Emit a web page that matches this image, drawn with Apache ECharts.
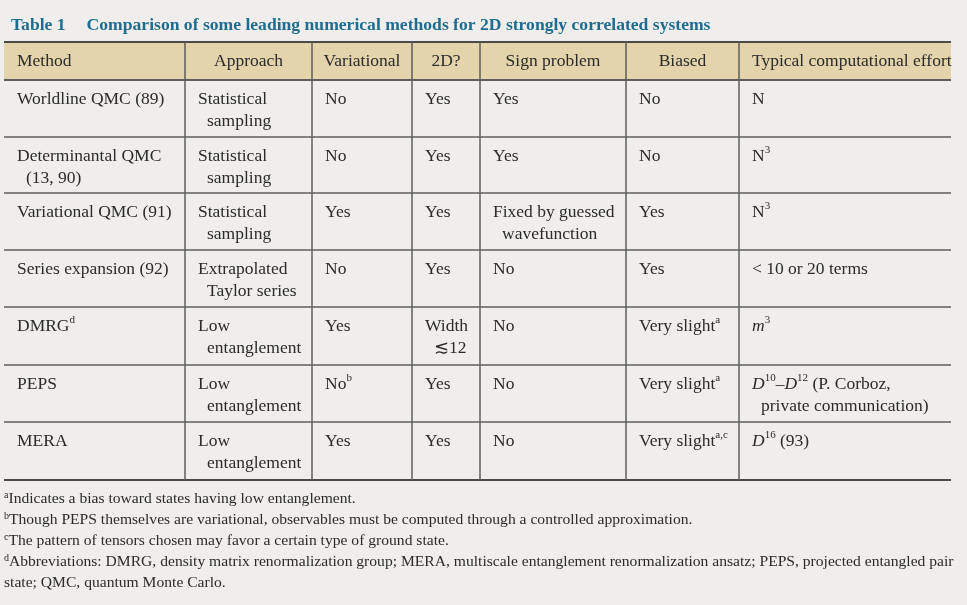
<!DOCTYPE html>
<html lang="en">
<head>
<meta charset="utf-8">
<title>Table 1</title>
<script src="https://cdn.jsdelivr.net/npm/echarts@6/dist/echarts.min.js"></script>
<style>
  html, body { margin: 0; padding: 0; background: #efeeec; }
  #main { width: 967px; height: 605px; }
</style>
</head>
<body>
<div id="main"></div>
<script>
// table content (each cell = list of lines, rich markup for sup/italic)
var headers = ['Method', 'Approach', 'Variational', '2D?', 'Sign problem', 'Biased', 'Typical computational effort'];
var headerAlign = ['left', 'center', 'center', 'center', 'center', 'center', 'left'];

var methods = [['Worldline QMC (89)'], ['Determinantal QMC', '(13, 90)'], ['Variational QMC (91)'],
  ['Series expansion (92)'], ['DMRG{sup|d}'], ['PEPS'], ['MERA']];
var approaches = [['Statistical', 'sampling'], ['Statistical', 'sampling'], ['Statistical', 'sampling'],
  ['Extrapolated', 'Taylor series'], ['Low', 'entanglement'], ['Low', 'entanglement'], ['Low', 'entanglement']];
var variational = [['No'], ['No'], ['Yes'], ['No'], ['Yes'], ['No{sup|b}'], ['Yes']];
var twoD = [['Yes'], ['Yes'], ['Yes'], ['Yes'], ['Width', '≲12'], ['Yes'], ['Yes']];
var signProblem = [['Yes'], ['Yes'], ['Fixed by guessed', 'wavefunction'], ['No'], ['No'], ['No'], ['No']];
var biased = [['No'], ['No'], ['Yes'], ['Yes'], ['Very slight{sup|a}'], ['Very slight{sup|a}'], ['Very slight{sup|a,c}']];
var effort = [['N'], ['N{sup|3}'], ['N{sup|3}'], ['< 10 or 20 terms'], ['{it|m}{sup|3}'],
  ['{it|D}{sup|10}–{it|D}{sup|12} (P. Corboz,', 'private communication)'], ['{it|D}{sup|16} (93)']];

var footnotes = [
  '{sup|a}Indicates a bias toward states having low entanglement.',
  '{sup|b}Though PEPS themselves are variational, observables must be computed through a controlled approximation.',
  '{sup|c}The pattern of tensors chosen may favor a certain type of ground state.',
  '{sup|d}Abbreviations: DMRG, density matrix renormalization group; MERA, multiscale entanglement renormalization ansatz; PEPS, projected entangled pair',
  'state; QMC, quantum Monte Carlo.'
];

var columns = [methods, approaches, variational, twoD, signProblem, biased, effort];

// layout
var colEdges = [0, 181, 308, 408, 476, 622, 735, 947];
var rowEdges = [0, 38, 95, 151, 208, 265, 323, 380, 438];
var FONT = '"Liberation Serif", "DejaVu Serif", serif';
var TEXT = '#2b2b2b';
var LINE = '#5e5e5e';

var rich = {
  sup: { fontSize: 11, fontFamily: FONT, fill: TEXT, color: TEXT, verticalAlign: 'top', lineHeight: 11 },
  it: { fontSize: 17.5, fontFamily: FONT, fontStyle: 'italic', fill: TEXT, color: TEXT }
};

var cells = [];
var data = [];
for (var c = 0; c < headers.length; c++) {
  cells.push({ lines: [headers[c]], align: headerAlign[c], header: true });
  data.push([c, 0]);
}
for (var r = 0; r < methods.length; r++) {
  for (var c2 = 0; c2 < columns.length; c2++) {
    cells.push({ lines: columns[c2][r], align: 'left', header: false });
    data.push([c2, r + 1]);
  }
}

function renderCell(params, api) {
  var c = api.value(0), r = api.value(1);
  var cell = cells[params.dataIndex];
  var p0 = api.coord([colEdges[c], rowEdges[r]]);
  var p1 = api.coord([colEdges[c + 1], rowEdges[r + 1]]);
  var x0 = p0[0], y0 = p0[1], x1 = p1[0], y1 = p1[1];
  var children = [];
  if (cell.header) {
    children.push({ type: 'rect', shape: { x: x0, y: y0, width: x1 - x0, height: y1 - y0 },
      style: { fill: '#e3d4ab' } });
    children.push({ type: 'line', shape: { x1: x0, y1: y0, x2: x1, y2: y0 },
      style: { stroke: '#4a4a4a', lineWidth: 2 } });
  }
  var last = r === rowEdges.length - 2;
  children.push({ type: 'line', shape: { x1: x0, y1: y1, x2: x1, y2: y1 },
    style: { stroke: last ? '#4a4a4a' : LINE, lineWidth: last || cell.header ? 2 : 1.5 } });
  if (c > 0) {
    children.push({ type: 'line', shape: { x1: x0, y1: y0, x2: x0, y2: y1 },
      style: { stroke: LINE, lineWidth: 1.5 } });
  }
  for (var i = 0; i < cell.lines.length; i++) {
    var tx, ty;
    if (cell.header) {
      ty = (y0 + y1) / 2;
    } else {
      ty = y0 + 19 + i * 22;
    }
    if (cell.align === 'center') tx = (x0 + x1) / 2;
    else tx = x0 + 13 + (i > 0 ? 9 : 0);
    children.push({ type: 'text', x: tx, y: ty, style: {
      text: cell.lines[i], rich: rich, fontSize: 17.5, fontFamily: FONT, fill: TEXT,
      lineHeight: 22, align: cell.align, verticalAlign: 'middle'
    } });
  }
  return { type: 'group', children: children };
}

var chart = echarts.init(document.getElementById('main'));

var graphics = footnotes.map(function (t, i) {
  return { type: 'text', left: 4, top: 490 + i * 21, style: {
    text: t, fontSize: 15.6, fontFamily: FONT, fill: TEXT, lineHeight: 18,
    rich: { sup: { fontSize: 10, fontFamily: FONT, fill: TEXT, verticalAlign: 'top', lineHeight: 9 } }
  } };
});

chart.setOption({
  backgroundColor: '#efeeec',
  animation: false,
  title: {
    text: '{t|Table 1}{g|}{t|Comparison of some leading numerical methods for 2D strongly correlated systems}',
    left: 6, top: 11,
    textStyle: {
      rich: {
        t: { fontFamily: FONT, fontSize: 17.6, fontWeight: 'bold', color: '#1f6c8e' },
        g: { width: 21 }
      }
    }
  },
  grid: { left: 4, top: 42, width: 947, height: 438 },
  xAxis: { type: 'value', min: 0, max: 947, show: false },
  yAxis: { type: 'value', min: 0, max: 438, inverse: true, show: false },
  graphic: graphics,
  series: [{
    type: 'custom',
    renderItem: renderCell,
    data: data,
    silent: true
  }]
});
</script>
</body>
</html>
